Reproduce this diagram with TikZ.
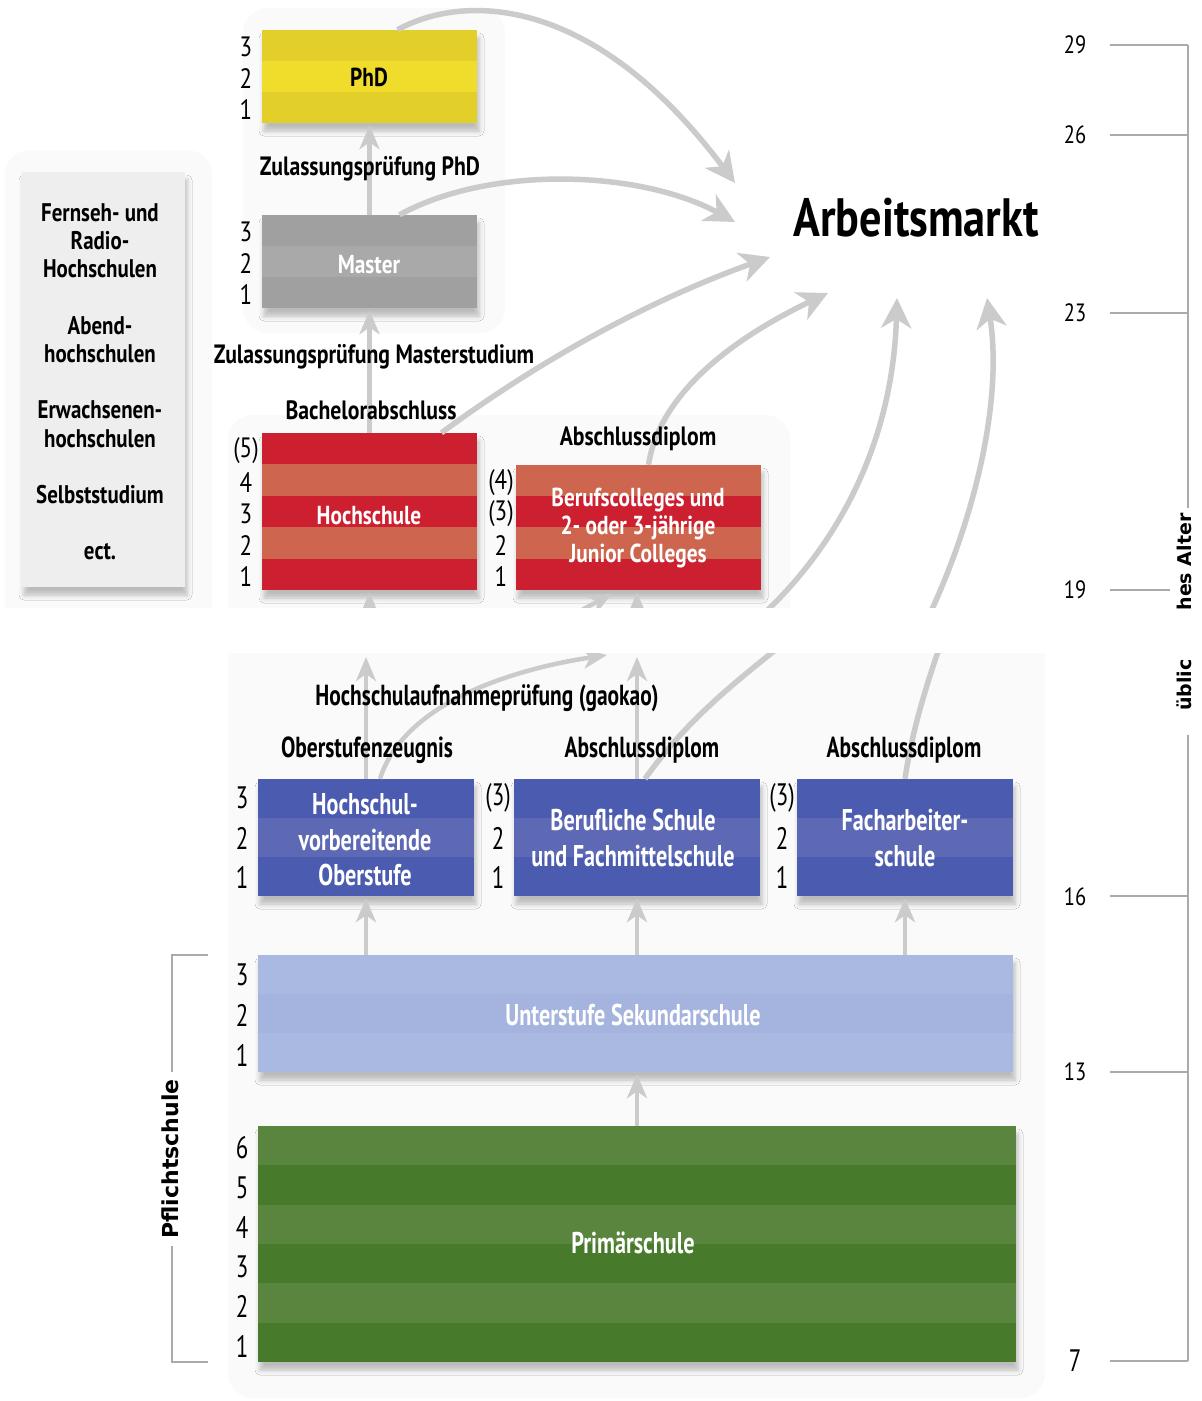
\documentclass[tikz,border=0pt]{standalone}
\usepackage{fontspec}
\setmainfont{PT Sans}[FakeStretch=0.82]
\newfontfamily\lowfont{PT Sans}[FakeStretch=0.74]
\newfontfamily\vfont{DejaVu Sans}
\usetikzlibrary{arrows.meta,shadows.blur,calc}
\definecolor{ylA}{HTML}{E3CF2A}
\definecolor{ylB}{HTML}{F0DC2A}
\definecolor{grA}{HTML}{A0A0A0}
\definecolor{grB}{HTML}{A9A9A9}
\definecolor{rdA}{HTML}{CC1F2F}
\definecolor{rdB}{HTML}{CD654F}
\definecolor{blA}{HTML}{4A5BB0}
\definecolor{blB}{HTML}{5E69B6}
\definecolor{lbA}{HTML}{AAB9E1}
\definecolor{lbB}{HTML}{A4B4DE}
\definecolor{gnA}{HTML}{5A853E}
\definecolor{gnB}{HTML}{477A2A}
\definecolor{conncol}{HTML}{CBCBCB}
\definecolor{halo}{HTML}{FAFAFA}
\definecolor{panel}{HTML}{EEEEEE}
\definecolor{scalecol}{HTML}{AAAAAA}
\begin{document}
\begin{tikzpicture}[x=1pt,y=-1pt,
 lbl/.style={font=\fontsize{26.5}{30}\selectfont\bfseries, text=black, inner sep=0pt},
 lowlbl/.style={font=\lowfont\fontsize{29}{32}\selectfont\bfseries, text=black, inner sep=0pt},
 num/.style={font=\fontsize{28}{30}\selectfont, inner sep=0pt},
 lownum/.style={font=\lowfont\fontsize{31}{32}\selectfont, inner sep=0pt},
 inbox/.style={font=\fontsize{26}{28}\selectfont\bfseries, text=white, align=center, inner sep=0pt},
 lowbox/.style={font=\lowfont\fontsize{30}{35.5}\selectfont\bfseries, text=white, align=center, inner sep=0pt},
 box/.style={rectangle, inner sep=0pt, blur shadow={shadow xshift=2pt, shadow yshift=-8pt, shadow blur radius=5pt, shadow opacity=25}},
 conn/.style={draw=conncol, line width=5.5pt, -{Stealth[length=30pt,width=30pt,inset=9pt]}},
 vconn/.style={draw=conncol, line width=4.5pt, -{Stealth[length=24pt,width=20pt,inset=7pt]}},
 plainc/.style={draw=conncol, line width=5.5pt},
 tickline/.style={draw=scalecol, line width=1.2pt},
 sidetxt/.style={font=\fontsize{25.5}{28.2}\selectfont\bfseries, align=center, inner sep=0pt},
 rot/.style={rotate=90, font=\vfont\bfseries\fontsize{19}{20}\selectfont, inner sep=0pt},
]
\useasboundingbox (0,0) rectangle (1202,1401);
\fill[white] (0,0) rectangle (1202,1401);
% halos
\fill[halo, rounded corners=25pt] (243,8) rectangle (505,333);
\fill[halo, rounded corners=25pt] (228,415) rectangle (790,640);
\fill[halo, rounded corners=25pt] (5,150) rectangle (212,640);
\fill[halo, rounded corners=25pt] (228,630) rectangle (1045,1398);

% left panel
\node[box, fill=panel, minimum width=163pt, minimum height=415pt] (side) at (103.5,379.5) {};
\node[sidetxt] (sideT) at (100,382) {Fernseh- und\\Radio-\\Hochschulen\\[28.2pt]Abend-\\hochschulen\\[28.2pt]Erwachsenen-\\hochschulen\\[28.2pt]Selbststudium\\[28.2pt]ect.};

% PhD
\node[box, fill=ylA, minimum width=215pt, minimum height=93pt] (phd) at (369.5,76.5) {};
\fill[ylB] (262,61) rectangle (477,92);
\node[inbox, text=black] (phdT) at (369,77) {PhD};
\foreach \n/\y [count=\k] in {3/47,2/79,1/110} \node[num] (nphd\k) at (246,\y) {\n};

% Master
\node[box, fill=grA, minimum width=215pt, minimum height=93pt] (master) at (369.5,261.5) {};
\fill[grB] (262,246) rectangle (477,277);
\node[inbox] (masterT) at (369,265) {Master};
\foreach \n/\y [count=\k] in {3/232,2/264,1/295} \node[num] (nms\k) at (246,\y) {\n};

% Hochschule
\node[box, fill=rdA, minimum width=215pt, minimum height=157pt] (hs) at (369.5,511.5) {};
\fill[rdB] (262,464.4) rectangle (477,495.8);
\fill[rdB] (262,527.2) rectangle (477,558.6);
\node[inbox] (hsT) at (369,516) {Hochschule};
\foreach \n/\y [count=\k] in {(5)/451,4/483,3/514,2/546,1/577} \node[num] (nhs\k) at (246,\y) {\n};

% Berufscolleges
\node[box, fill=rdA, minimum width=245pt, minimum height=125pt] (bc) at (638.5,527.5) {};
\fill[rdB] (516,465) rectangle (761,496.2);
\fill[rdB] (516,527.4) rectangle (761,558.6);
\node[inbox] (bcT) at (638,528) {Berufscolleges und\\2- oder 3-jährige\\Junior Colleges};
\foreach \n/\y [count=\k] in {(4)/483,(3)/514,2/546,1/577} \node[num] (nbc\k) at (501,\y) {\n};

% Arbeitsmarkt
\node[font=\fontsize{54}{58}\selectfont\bfseries, inner sep=0pt] (arb) at (916,218) {Arbeitsmarkt};
\coordinate (a1) at (735,183);
\coordinate (a2) at (735,222);
\coordinate (a3) at (770,257);
\coordinate (a4) at (828,293);
\coordinate (a5) at (897,298);
\coordinate (a6) at (987,298);

% lower boxes
\node[box, fill=blA, minimum width=216pt, minimum height=117pt] (hvo) at (366,837.5) {};
\fill[blB] (258,818) rectangle (474,857);
\node[lowbox] (hvoT) at (365,840) {Hochschul-\\vorbereitende\\Oberstufe};
\foreach \n/\y [count=\k] in {3/798,2/838,1/877} \node[lownum] (nhvo\k) at (242,\y) {\n};

\node[box, fill=blA, minimum width=246pt, minimum height=117pt] (bs) at (637,837.5) {};
\fill[blB] (514,818) rectangle (760,857);
\node[lowbox] (bsT) at (633,838) {Berufliche Schule\\und Fachmittelschule};
\foreach \n/\y [count=\k] in {(3)/798,2/838,1/877} \node[lownum] (nbs\k) at (498,\y) {\n};

\node[box, fill=blA, minimum width=216pt, minimum height=117pt] (fa) at (905,837.5) {};
\fill[blB] (797,818) rectangle (1013,857);
\node[lowbox] (faT) at (905,838) {Facharbeiter-\\schule};
\foreach \n/\y [count=\k] in {(3)/798,2/838,1/877} \node[lownum] (nfa\k) at (782,\y) {\n};

\node[box, fill=lbA, minimum width=755pt, minimum height=117pt] (uss) at (635.5,1013.5) {};
\fill[lbB] (258,994) rectangle (1013,1033);
\node[lowbox] (ussT) at (633,1015) {Unterstufe Sekundarschule};
\foreach \n/\y [count=\k] in {3/975,2/1015,1/1055} \node[lownum] (nuss\k) at (242,\y) {\n};

\node[box, fill=gnB, minimum width=758pt, minimum height=236pt] (prim) at (637,1244) {};
\fill[gnA] (258,1126) rectangle (1016,1165.3);
\fill[gnA] (258,1204.7) rectangle (1016,1244);
\fill[gnA] (258,1283.3) rectangle (1016,1322.7);
\node[lowbox] (primT) at (633,1243) {Primärschule};
\foreach \n/\y [count=\k] in {6/1148,5/1188,4/1227,3/1267,2/1306,1/1346} \node[lownum] (nprim\k) at (242,\y) {\n};

% band coordinates
\coordinate (bandtop) at (0,608);
\coordinate (bandbot) at (0,655);

% connectors upper
\draw[vconn, shorten >=2pt] (master.north) -- (phd.south);
\draw[vconn, shorten >=2pt] (hs.north) -- (master.south);
\draw[conn] ([xshift=28pt]phd.north) .. controls (460,-5) and (590,-10) .. (a1);
\draw[conn] ([xshift=30pt]master.north) .. controls (490,165) and (640,170) .. (a2);
\draw[conn] ([xshift=72pt]hs.north) .. controls (540,360) and (650,300) .. (a3);
\draw[conn] ([xshift=10pt]bc.north) .. controls (660,390) and (740,335) .. (a4);
\draw[conn] (757,620) .. controls (840,545) and (893,440) .. (a5);
\draw[conn] (926,622) .. controls (975,520) and (1003,400) .. (a6);
\draw[vconn, shorten >=2pt] (hs.south |- 0,625) -- (hs.south);
\draw[vconn, shorten >=2pt] (bs.north |- 0,625) -- (bs.north |- bc.south);
\draw[vconn, shorten >=1pt] (560,622) -- (613,593);

% connectors lower
\draw[vconn, shorten >=2pt] (hvo.north) -- (hvo.north |- bandbot);
\draw[vconn, shorten >=2pt] (bs.north) -- (bs.north |- bandbot);
\draw[vconn] ([xshift=14pt]hvo.north) .. controls (405,700) and (520,668) .. (607,655);
\draw[plainc] ([xshift=8pt]bs.north) .. controls (690,715) and (745,675) .. (785,642);
\draw[plainc] (fa.north) .. controls (912,730) and (928,680) .. (942,640);
\draw[vconn, shorten >=2pt] (hvo.south |- uss.north) -- (hvo.south);
\draw[vconn, shorten >=2pt] (bs.south |- uss.north) -- (bs.south);
\draw[vconn, shorten >=2pt] (fa.south |- uss.north) -- (fa.south);
\draw[vconn, shorten >=2pt] (prim.north) -- (prim.north |- uss.south);

% labels (over connectors)
\node[lbl] (zphd) at (370,169) {Zulassungsprüfung PhD};
\node[lbl] (zms) at (374,357) {Zulassungsprüfung Masterstudium};
\node[lbl] (bach) at (371,410) {Bachelorabschluss};
\node[lbl] (absc1) at (638,439) {Abschlussdiplom};
\node[lowlbl] (gaokao) at (487,698) {Hochschulaufnahmeprüfung (gaokao)};
\node[lowlbl] (ozeug) at (367,750) {Oberstufenzeugnis};
\node[lowlbl] (absc2) at (642,750) {Abschlussdiplom};
\node[lowlbl] (absc3) at (904,750) {Abschlussdiplom};

% white band
\fill[white] (0,608) rectangle (1202,653);

% age scale
\foreach \a/\y in {29/45,26/135,23/313,19/590,16/897,13/1072}
  \node[num, font=\fontsize{25}{26}\selectfont] (age\a) at (1075,\y) {\a};
\node[lownum] (age7) at (1075,1361) {7};
\draw[tickline] (1188,45) -- (1188,508);
\draw[tickline] (1188,735) -- (1188,1361);
\foreach \y in {45,135,313,896,1072,1361} \draw[tickline] (1110,\y) -- (1188,\y);
\draw[tickline] (1110,590) -- (1170,590);
\node[rot] (alt1) at (1184,562) {hes Alter};
\node[rot] (alt2) at (1184,685) {üblic};

% Pflichtschule bracket
\draw[tickline] (208,955) -- (172,955) -- (172,1072);
\draw[tickline] (172,1246) -- (172,1362) -- (208,1362);
\node[rot, font=\vfont\bfseries\fontsize{22}{24}\selectfont] (pfl) at (170,1159) {Pflichtschule};
\end{tikzpicture}
\end{document}
